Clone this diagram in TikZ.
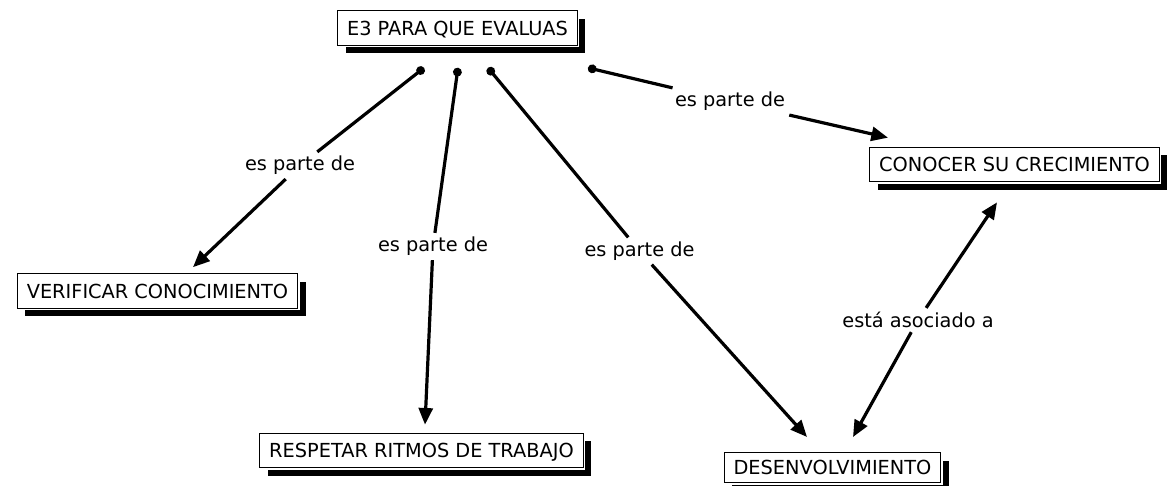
\documentclass[tikz,border=0pt]{standalone}
\usepackage{fontspec}
\setmainfont{DejaVu Sans}
\usetikzlibrary{arrows.meta, calc, shadows}

\begin{document}
\begin{tikzpicture}[
  x=0.75pt, y=-0.75pt,
  font=\fontsize{14.5}{17}\selectfont,
  concept/.style={draw, line width=0.75pt, fill=white, inner xsep=7pt, inner ysep=0pt,
    minimum height=26pt, text height=10.6pt, text depth=0pt,
    drop shadow={shadow xshift=6pt, shadow yshift=-6pt, fill=black, opacity=1},
    preaction={draw=white, line width=3pt}},
  phrase/.style={fill=white, inner sep=3pt},
  tail/.style={line width=2.4pt, {Circle[length=6.5pt]}-},
  arrow/.style={line width=2.4pt, -{Triangle[length=12.5pt, width=10.5pt]}}
]
\useasboundingbox (0,0) rectangle (1169,485);

% --- Concepts ---
\node[concept] (e3) at (457.5,28) {E3 PARA QUE EVALUAS};
\node[concept] (conocer) at (1014.5,164.5) {CONOCER SU CRECIMIENTO};
\node[concept] (verif) at (157.5,291) {VERIFICAR CONOCIMIENTO};
\node[concept] (respetar) at (421.5,450.5) {RESPETAR RITMOS DE TRABAJO};
\node[concept, minimum height=22.5pt] (desenv) at (832.5,467.5) {DESENVOLVIMIENTO};

% --- Linking phrases ---
\node[phrase] (p1) at (300,165.5) {es parte de};
\node[phrase] (p2) at (433,246.5) {es parte de};
\node[phrase] (p3) at (639.5,251) {es parte de};
\node[phrase] (p4) at (730,101.5) {es parte de};
\node[phrase] (p5) at (918,320) {está asociado a};

% --- Links ---
\draw[tail] ($(e3.south)+(-33.5,22)$) -- (p1);
\draw[arrow] (p1) -- ($(verif.north)+(35.5,-6)$);
\draw[tail] ($(e3.south)+(0.5,22)$) -- (p2);
\draw[arrow] (p2) -- ($(respetar.north)+(3.5,-8)$);
\draw[tail] ($(e3.south)+(30.5,22)$) -- (p3);
\draw[arrow] (p3) -- ($(desenv.north)+(-25.5,-15)$);
\draw[tail] ($(e3.south)+(130.5,22)$) -- (p4);
\draw[arrow] (p4) -- ($(conocer.north)+(-126.5,-9)$);
\draw[arrow] (p5) -- ($(conocer.south)+(-17.5,20)$);
\draw[arrow] (p5) -- ($(desenv.north)+(20.5,-15)$);

\end{tikzpicture}
\end{document}
